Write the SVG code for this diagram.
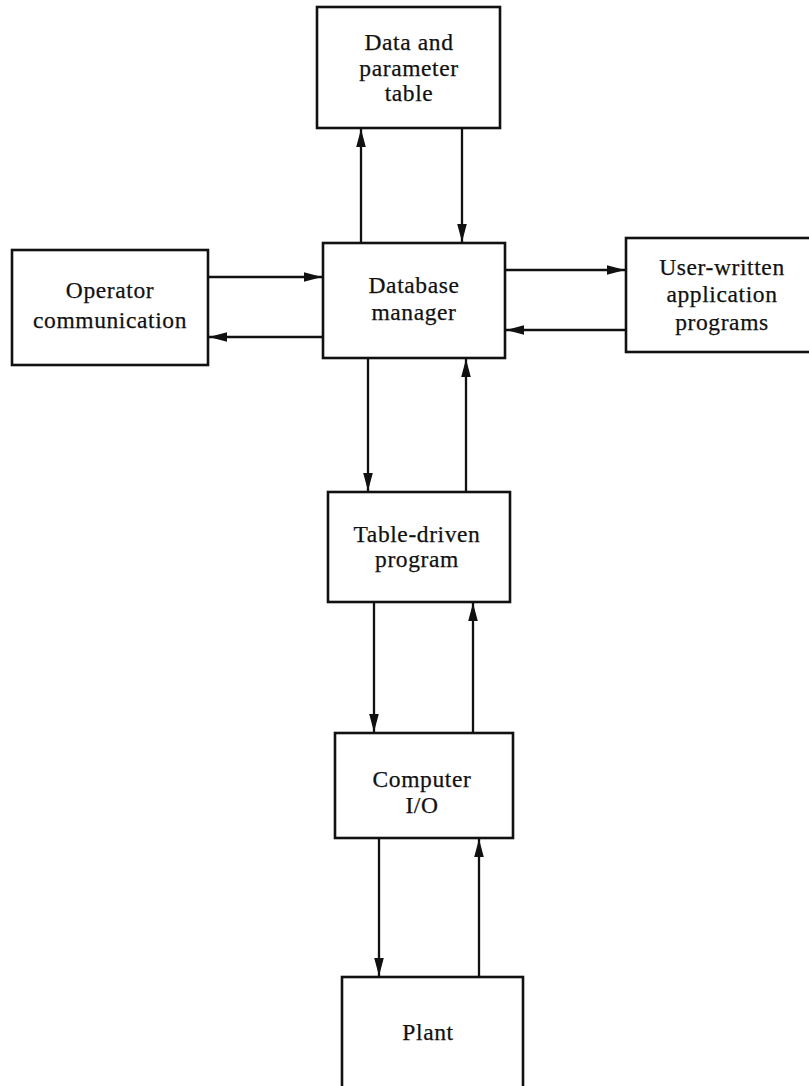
<svg xmlns="http://www.w3.org/2000/svg" width="809" height="1086" viewBox="0 0 809 1086">
  <style>
    .box { fill: #fff; stroke: #111; stroke-width: 2.6; }
    .lbl { font-family: "Liberation Serif", "DejaVu Serif", serif; font-size: 23.5px; fill: #111; text-anchor: middle; letter-spacing: 0.6px; stroke: #111; stroke-width: 0.25; }
    .link { fill: none; stroke: #111; stroke-width: 2.3; marker-end: url(#head); }
  </style>
  <defs>
    <marker id="head" markerUnits="userSpaceOnUse" markerWidth="20" markerHeight="14" refX="18" refY="7" orient="auto">
      <path d="M0,2.2 L18,7 L0,11.8 Z" fill="#111"/>
    </marker>
  </defs>
  <rect width="809" height="1086" fill="#fff"/>

  <g id="data-table">
    <rect class="box" x="317" y="7" width="183" height="121"/>
    <text class="lbl" x="409" y="50">Data and</text>
    <text class="lbl" x="409" y="76">parameter</text>
    <text class="lbl" x="409" y="101">table</text>
  </g>

  <g id="database-manager">
    <rect class="box" x="323" y="243" width="182" height="115"/>
    <text class="lbl" x="414" y="293">Database</text>
    <text class="lbl" x="414" y="320">manager</text>
  </g>

  <g id="operator-communication">
    <rect class="box" x="12" y="250" width="196" height="115"/>
    <text class="lbl" x="110" y="298">Operator</text>
    <text class="lbl" x="110" y="328">communication</text>
  </g>

  <g id="user-programs">
    <rect class="box" x="626" y="238" width="190" height="114"/>
    <text class="lbl" x="722" y="275">User-written</text>
    <text class="lbl" x="722" y="302">application</text>
    <text class="lbl" x="722" y="330">programs</text>
  </g>

  <g id="table-driven-program">
    <rect class="box" x="328" y="492" width="182" height="110"/>
    <text class="lbl" x="417" y="542">Table-driven</text>
    <text class="lbl" x="417" y="567">program</text>
  </g>

  <g id="computer-io">
    <rect class="box" x="335" y="733" width="178" height="105"/>
    <text class="lbl" x="422" y="787">Computer</text>
    <text class="lbl" x="422" y="813">I/O</text>
  </g>

  <g id="plant">
    <rect class="box" x="342" y="977" width="181" height="115"/>
    <text class="lbl" x="428" y="1040">Plant</text>
  </g>

  <g id="connectors">
    <line class="link" x1="361" y1="243" x2="361" y2="129"/>
    <line class="link" x1="462" y1="128" x2="462" y2="242"/>
    <line class="link" x1="208" y1="277" x2="322" y2="277"/>
    <line class="link" x1="323" y1="337" x2="209" y2="337"/>
    <line class="link" x1="505" y1="270" x2="625" y2="270"/>
    <line class="link" x1="626" y1="330" x2="506" y2="330"/>
    <line class="link" x1="368" y1="358" x2="368" y2="491"/>
    <line class="link" x1="466" y1="492" x2="466" y2="359"/>
    <line class="link" x1="374" y1="602" x2="374" y2="732"/>
    <line class="link" x1="473" y1="733" x2="473" y2="603"/>
    <line class="link" x1="379" y1="838" x2="379" y2="976"/>
    <line class="link" x1="479" y1="977" x2="479" y2="839"/>
  </g>
</svg>
